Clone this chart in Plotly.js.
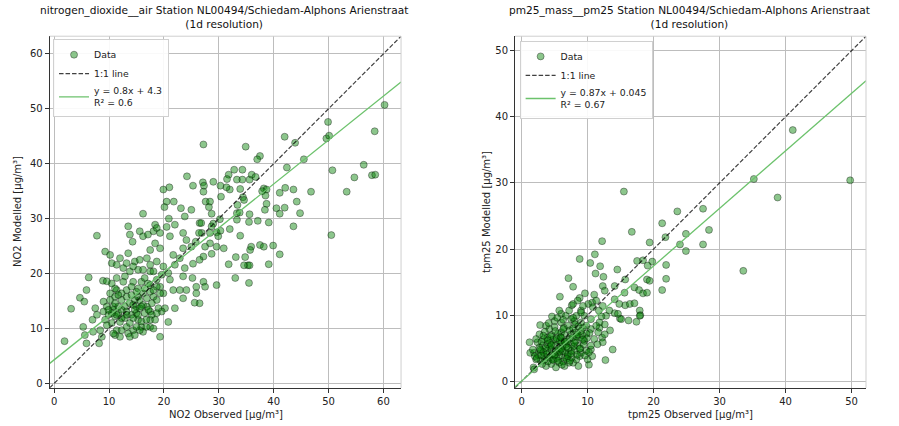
<!DOCTYPE html>
<html>
<head>
<meta charset="utf-8">
<script src="https://cdn.plot.ly/plotly-3.0.1.min.js"></script>
<style>html,body{margin:0;padding:0;background:#fff;}#chart{width:899px;height:426px;}</style>
</head>
<body>
<div id="chart"></div>
<script>
// ---------- NO2 panel data ----------
const no2Observed = [
60.2,49.9,58.4,49.6,50.1,42.0,43.9,34.9,27.2,37.5,37.0,45.5,50.7,56.4,54.7,57.9,58.5,53.3,46.8,50.5,
42.4,42.1,43.6,41.1,44.2,42.0,40.5,44.8,41.1,43.6,41.1,39.9,39.1,38.2,38.7,37.9,38.5,38.7,38.4,39.1,
37.1,35.6,35.5,37.5,38.2,35.9,35.7,35.3,35.6,34.6,33.1,31.8,34.8,35.5,33.0,33.9,32.0,33.3,33.3,33.8,
33.4,34.4,34.6,33.9,32.0,33.3,34.3,35.6,36.0,36.7,32.8,34.3,31.8,31.5,31.4,30.3,30.4,29.0,27.1,27.3,
27.2,25.3,24.2,21.0,19.9,20.5,21.8,20.1,23.1,25.0,27.6,28.4,28.2,28.7,23.8,20.9,20.5,18.4,26.5,26.8,
30.2,29.0,28.7,29.6,30.3,29.9,28.4,26.9,28.4,26.4,30.9,29.6,28.7,27.2,27.5,26.5,25.3,23.8,25.0,25.8,
24.1,23.5,27.2,27.5,25.9,24.1,29.6,26.5,25.6,25.9,22.0,21.7,22.9,20.8,19.9,21.1,23.5,25.2,22.9,23.5,
21.7,19.9,19.3,20.2,22.0,22.0,23.5,21.1,
1.9,3.1,4.7,5.5,5.9,6.3,7.8,8.9,5.3,5.9,5.6,7.1,7.0,7.8,7.5,8.4,8.7,8.2,9.0,9.6,
9.0,9.9,9.3,10.5,10.2,10.8,11.1,11.7,12.0,11.4,12.0,12.3,12.9,13.2,13.5,13.8,14.4,14.1,15.0,15.3,
15.9,16.2,17.5,18.1,17.5,19.3,19.6,20.8,19.0,17.5,16.9,16.2,10.2,11.1,11.4,12.3,13.2,12.9,13.8,14.7,
15.3,16.2,16.9,17.5,18.1,18.7,17.8,15.0,14.4,9.3,10.2,10.5,12.0,11.4,13.5,14.7,12.6,12.9,12.6,13.8,
14.4,15.3,15.9,15.3,16.5,16.2,17.5,17.1,16.5,17.5,13.5,13.8,14.3,15.6,16.2,17.1,18.1,18.7,19.3,16.2,
18.4,19.3,17.5,16.9,18.7,18.7,19.3,18.1,11.1,15.6,
10.8,11.4,12.3,13.2,14.7,15.6,16.5,17.2,14.4,15.3,15.9,16.8,17.8,18.7,18.4,13.2,12.3,11.7,11.1,10.5,
9.9,9.6,10.8,13.8,14.7,15.0,16.8,15.9,15.0,14.1,13.2,12.3,11.7,11.1,10.5,9.6,11.4,14.1,15.6,18.7,
19.6,18.1,17.5,15.6,14.4,13.2
];
const no2Modelled = [
50.7,47.6,45.9,44.6,45.1,44.9,43.8,43.1,43.5,41.4,40.8,40.8,38.8,39.8,37.5,37.9,38.0,34.9,34.9,27.0,
39.3,35.6,35.3,34.7,33.1,32.0,31.9,31.0,30.9,28.6,23.5,25.1,21.7,35.5,35.3,35.0,34.2,32.7,31.6,29.3,
29.6,30.8,29.4,25.2,24.9,24.9,24.3,21.5,21.5,21.5,23.0,21.7,23.0,18.3,19.2,26.9,28.1,29.8,31.0,31.1,
32.5,33.9,33.4,35.4,35.3,37.1,37.1,37.1,38.0,37.6,38.9,38.9,38.0,37.2,35.7,36.0,34.0,36.7,36.6,36.0,
34.9,36.0,37.7,35.7,35.3,33.1,33.1,32.1,31.9,31.6,33.1,33.1,32.1,30.9,30.4,30.0,28.5,28.9,29.2,29.2,
29.9,29.1,28.6,27.5,27.8,26.8,27.4,27.4,25.5,27.4,24.6,24.9,23.6,23.1,24.9,22.5,21.8,21.0,24.9,25.8,
26.1,24.6,18.5,17.6,17.6,17.0,17.9,14.6,14.7,16.4,21.6,23.4,22.8,20.1,21.3,18.9,19.5,19.2,17.0,15.5,
17.0,16.4,17.6,13.7,13.7,28.9,27.4,26.8,
7.7,13.6,15.6,14.9,17.0,19.3,26.9,18.7,10.3,7.3,8.8,9.4,11.6,12.5,13.7,9.7,8.5,7.3,14.9,14.0,
13.1,12.5,11.6,11.0,15.2,13.4,12.2,12.8,11.2,9.7,8.5,9.7,11.9,10.3,9.1,11.0,9.7,12.5,12.8,11.6,
10.3,9.4,10.3,10.0,11.6,8.5,13.1,11.2,13.7,13.1,14.0,14.3,16.4,15.8,17.0,15.2,15.8,14.0,14.6,15.2,
15.8,16.4,15.5,16.7,15.8,15.2,14.6,14.0,14.3,24.0,23.4,21.9,22.8,21.6,23.7,22.2,21.0,19.5,18.5,20.4,
18.5,20.7,18.5,17.3,19.2,20.7,20.4,18.2,17.3,17.9,28.6,27.1,25.8,27.7,26.8,27.1,27.7,28.3,27.4,30.9,
25.5,24.6,24.3,22.8,22.2,17.6,16.4,17.0,8.8,9.7,
14.0,12.5,13.4,13.1,13.4,13.7,12.8,13.4,11.9,12.5,11.3,11.6,12.5,12.8,11.6,12.5,11.9,14.0,14.6,12.8,
13.4,10.6,9.1,8.5,8.8,10.3,10.3,14.0,16.7,16.1,17.0,16.4,16.1,17.3,18.2,18.6,19.2,17.6,15.2,18.9,
19.8,20.4,21.6,22.5,21.3,21.9
];
const no2Fit = {slope: 0.8, intercept: 4.3};
const no2FitLabel = 'y = 0.8x + 4.3<br>R² = 0.6';
const no2Range = [-0.8, 63.2];
const no2Ticks = [0, 10, 20, 30, 40, 50, 60];

// ---------- PM2.5 panel data ----------
const pm25Observed = [
41.1,49.8,35.2,38.8,33.6,15.5,23.6,27.5,21.3,28.4,16.7,24.9,21.8,12.2,19.4,24.0,27.5,24.9,11.1,8.8,
10.4,11.9,17.5,18.4,19.8,19.1,21.9,14.5,11.2,12.4,7.1,15.7,19.0,19.4,21.9,7.8,12.3,12.6,14.1,15.6,
17.1,17.8,18.4,19.0,21.3,9.6,11.0,5.8,8.8,
7.6,10.1,10.7,11.7,12.3,12.8,13.3,12.1,14.1,14.9,15.7,16.4,17.1,17.9,18.0,16.2,17.4,13.8,12.7,13.4,
12.2,12.3,11.8,11.6,10.5,10.7,10.2,8.6,1.8,2.8,4.6,6.0,6.7,7.5,8.3,9.0,9.5,
1.3,1.2,7.8,8.5,9.3,10.8,11.3,14.1,14.8,15.1,14.6,17.9,12.6,11.8,11.3,10.5,9.8,11.0,
1.9,2.4,2.7,3.2,3.4,3.9,4.2,4.5,4.7,5.0,5.2,5.5,5.7,6.0,6.2,6.5,7.0,7.2,7.5,7.8,
8.0,8.3,8.5,8.8,9.0,9.3,9.5,9.8,10.0,10.3,10.5,3.7,4.5,5.2,6.5,7.2,2.9,2.2,1.7,3.7,
5.7,7.2,7.8,6.0,5.0,3.9,2.9,7.0,8.0,9.0,8.3,5.5,4.5,6.5,7.5,8.8,9.8,5.0,6.0,9.0,
3.4,2.7,4.2,5.7,5.2,6.2,7.5,6.7,3.9,2.2,10.5,11.5,12.6,1.9,
2.5,3.0,3.5,4.0,4.3,4.8,5.3,5.6,5.9,6.3,6.6,6.9,7.3,7.6,7.9,8.2,8.6,8.9,9.2,9.6,
3.1,4.1,5.4,6.4,4.6,3.6,6.8,8.4,9.4,2.0,5.8,7.1,4.4,6.1,8.1,3.3,5.1,7.7,6.3,9.9,
2.3,2.8,3.3,3.8,4.3,4.8,5.3,5.8,6.3,6.8,7.3,7.8,8.3,8.8,9.3,3.0,4.0,5.0,6.0,7.0,
8.0,9.0,4.5,5.5,6.5,7.5,3.5,6.0,8.5,10.2
];
const pm25Modelled = [
38.0,30.4,30.6,27.8,16.7,28.7,25.7,26.1,23.9,22.9,22.6,22.3,21.8,21.2,21.0,20.7,20.7,19.7,19.2,18.5,
17.9,17.4,18.2,18.3,18.1,17.5,17.6,16.9,16.3,15.8,15.6,15.4,15.4,15.2,15.5,14.3,14.4,13.7,14.4,13.4,
14.2,13.8,13.3,13.4,13.8,13.3,13.1,12.8,12.6,
11.5,11.7,11.9,10.7,11.4,9.9,10.7,9.8,10.3,9.5,11.5,11.7,11.8,10.7,10.0,9.2,9.0,4.8,3.2,7.7,
6.6,5.9,8.1,7.4,4.8,3.8,2.5,2.3,2.1,8.5,9.8,10.2,9.9,9.4,9.9,10.7,9.9,
4.3,5.9,11.7,12.2,11.4,11.2,12.2,12.4,11.7,9.4,10.2,9.9,8.6,8.9,8.4,7.9,8.4,6.4,
4.3,5.9,7.1,5.4,3.8,6.6,7.9,4.8,3.3,9.1,6.1,4.3,2.8,7.4,5.4,3.6,8.4,6.4,4.6,2.8,
9.1,7.4,5.4,3.8,10.4,8.1,6.1,4.6,3.3,7.3,9.4,2.3,2.6,2.1,2.3,2.8,3.1,3.3,4.8,8.4,
10.7,10.7,9.6,5.9,5.4,4.6,4.6,4.1,4.6,4.3,3.3,7.2,7.0,7.0,7.1,6.6,7.2,8.2,8.9,8.9,
6.4,5.1,3.6,3.8,4.6,4.6,5.6,5.6,5.6,6.4,5.4,5.6,7.1,1.8,
4.0,6.0,7.5,3.0,5.2,6.3,3.5,5.0,6.7,3.0,4.4,6.0,7.7,3.6,5.3,6.1,8.3,5.0,7.0,3.9,
2.6,8.8,9.6,8.1,4.0,5.0,3.4,4.0,5.6,3.8,6.1,5.0,6.8,2.5,8.6,4.4,7.6,6.6,9.3,6.5,
3.5,4.8,6.9,4.1,5.8,3.2,6.5,4.5,7.9,5.2,3.1,8.0,6.8,4.9,6.3,3.9,6.2,4.0,6.6,3.8,
5.8,7.6,5.5,3.1,6.0,4.2,3.3,4.9,7.1,4.4
];
const pm25Fit = {slope: 0.87, intercept: 0.045};
const pm25FitLabel = 'y = 0.87x + 0.045<br>R² = 0.67';
const pm25Range = [-1.0, 52.2];
const pm25Ticks = [0, 10, 20, 30, 40, 50];

const titles = [
  'nitrogen_dioxide__air Station NL00494/Schiedam-Alphons Arienstraat<br>(1d resolution)',
  'pm25_mass__pm25 Station NL00494/Schiedam-Alphons Arienstraat<br>(1d resolution)'
];
const xLabels = ['NO2 Observed [µg/m³]', 'tpm25 Observed [µg/m³]'];
const yLabels = ['NO2 Modelled [µg/m³]', 'tpm25 Modelled [µg/m³]'];

// ---------- styling ----------
const FONT = 'DejaVu Sans, Liberation Sans, sans-serif';
const markerStyle = {size: 7, color: 'rgba(0,128,0,0.45)', line: {color: 'rgba(0,0,0,0.5)', width: 0.7}};
const oneToOneStyle = {color: 'rgba(0,0,0,0.75)', width: 1.2, dash: '4.5px,2px'};
const fitStyle = {color: '#6cc26c', width: 1.3};

function panel(obs, mod, fit, fitLabel, range, xa, ya, legendId) {
  const fitY = range.map(v => fit.slope * v + fit.intercept);
  return [
    {type: 'scatter', mode: 'markers', x: obs, y: mod, name: 'Data', xaxis: xa, yaxis: ya,
     legend: legendId, marker: markerStyle, hoverinfo: 'x+y'},
    {type: 'scatter', mode: 'lines', x: range, y: range, name: '1:1 line', xaxis: xa, yaxis: ya,
     legend: legendId, line: oneToOneStyle},
    {type: 'scatter', mode: 'lines', x: range, y: fitY, name: fitLabel, xaxis: xa, yaxis: ya,
     legend: legendId, line: fitStyle}
  ];
}

const data = [].concat(
  panel(no2Observed, no2Modelled, no2Fit, no2FitLabel, no2Range, 'x', 'y', 'legend'),
  panel(pm25Observed, pm25Modelled, pm25Fit, pm25FitLabel, pm25Range, 'x2', 'y2', 'legend2')
);

function axis(domain, range, ticks, anchor) {
  return {
    domain: domain, range: range, tickvals: ticks, anchor: anchor,
    ticks: 'outside', ticklen: 4, tickwidth: 1, tickcolor: '#333',
    showline: true, linecolor: '#333', linewidth: 1, mirror: false,
    showgrid: true, gridcolor: '#bdbdbd', gridwidth: 1, zeroline: false,
    tickfont: {family: FONT, size: 10, color: '#222'}, fixedrange: true
  };
}

const yDom = [0.0895, 0.915];
const legendBase = {xanchor: 'left', yanchor: 'top', bgcolor: 'rgba(255,255,255,0.9)',
  bordercolor: '#d0d0d0', borderwidth: 1, font: {family: FONT, size: 9.3, color: '#222'},
  tracegroupgap: 0, itemwidth: 30};

const layout = {
  width: 899, height: 426, margin: {l: 0, r: 0, t: 0, b: 0},
  paper_bgcolor: 'white', plot_bgcolor: 'white',
  font: {family: FONT, size: 10, color: '#222'},
  showlegend: true,
  xaxis: axis([0.0553, 0.4461], no2Range, no2Ticks, 'y'),
  yaxis: axis(yDom, no2Range, no2Ticks, 'x'),
  xaxis2: axis([0.5729, 0.9633], pm25Range, pm25Ticks, 'y2'),
  yaxis2: axis(yDom, pm25Range, pm25Ticks, 'x2'),
  legend: Object.assign({x: 0.059, y: 0.908}, legendBase),
  legend2: Object.assign({x: 0.578, y: 0.904}, legendBase),
  shapes: [
    {type: 'line', xref: 'x domain', yref: 'y domain', x0: 0, x1: 1, y0: 1, y1: 1, line: {color: '#cfcfcf', width: 1}},
    {type: 'line', xref: 'x domain', yref: 'y domain', x0: 1, x1: 1, y0: 0, y1: 1, line: {color: '#cfcfcf', width: 1}},
    {type: 'line', xref: 'x2 domain', yref: 'y2 domain', x0: 0, x1: 1, y0: 1, y1: 1, line: {color: '#cfcfcf', width: 1}},
    {type: 'line', xref: 'x2 domain', yref: 'y2 domain', x0: 1, x1: 1, y0: 0, y1: 1, line: {color: '#cfcfcf', width: 1}}
  ],
  annotations: [
    {text: titles[0], xref: 'paper', yref: 'paper', x: 224/899, y: 1 - 17/426, xanchor: 'center', yanchor: 'middle',
     showarrow: false, font: {family: FONT, size: 10.6, color: '#111'}},
    {text: titles[1], xref: 'paper', yref: 'paper', x: 689/899, y: 1 - 17/426, xanchor: 'center', yanchor: 'middle',
     showarrow: false, font: {family: FONT, size: 10.6, color: '#111'}},
    {text: xLabels[0], xref: 'paper', yref: 'paper', x: 226/899, y: 1 - 414/426, xanchor: 'center', yanchor: 'middle',
     showarrow: false, font: {family: FONT, size: 10, color: '#222'}},
    {text: xLabels[1], xref: 'paper', yref: 'paper', x: 690/899, y: 1 - 414/426, xanchor: 'center', yanchor: 'middle',
     showarrow: false, font: {family: FONT, size: 10, color: '#222'}},
    {text: yLabels[0], xref: 'paper', yref: 'paper', x: 17/899, y: 1 - 212/426, xanchor: 'center', yanchor: 'middle',
     textangle: -90, showarrow: false, font: {family: FONT, size: 10, color: '#222'}},
    {text: yLabels[1], xref: 'paper', yref: 'paper', x: 486/899, y: 1 - 212/426, xanchor: 'center', yanchor: 'middle',
     textangle: -90, showarrow: false, font: {family: FONT, size: 10, color: '#222'}}
  ]
};

Plotly.newPlot('chart', data, layout, {displayModeBar: false, staticPlot: true});
</script>
</body>
</html>
